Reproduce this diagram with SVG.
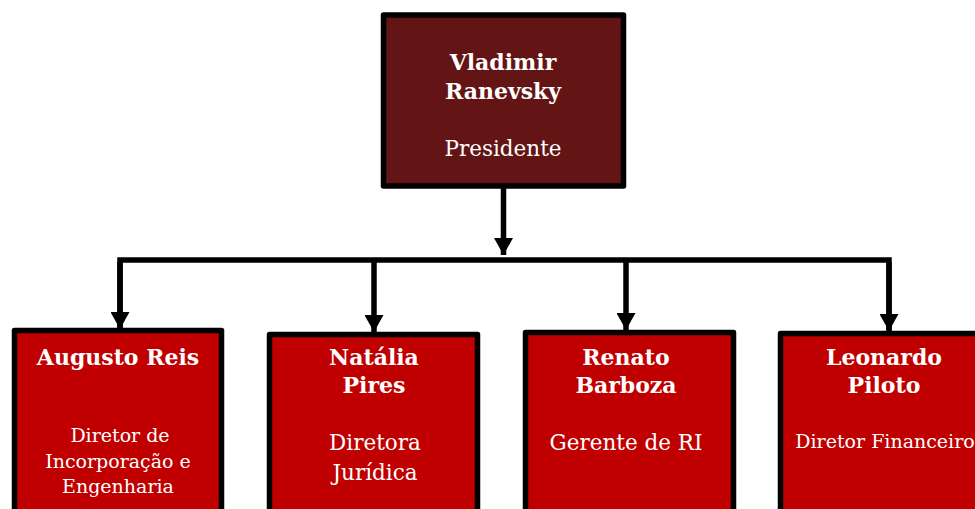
<svg xmlns="http://www.w3.org/2000/svg" width="975" height="509" viewBox="0 0 975 509">
<defs>
<style>
.box{stroke:#000;stroke-width:5.5;stroke-linejoin:round}
.top{fill:#631515}
.sub{fill:#c00000}
text{font-family:"DejaVu Serif","Liberation Serif",serif;fill:#fff;text-anchor:middle}
.n{font-weight:bold;font-size:22px}
.t{font-size:21.5px}
.s{font-size:19px}
.conn{stroke:#000;stroke-width:5.5;fill:none}
</style>
<marker id="ah" viewBox="0 0 17 19" refX="17" refY="9.5" markerWidth="17" markerHeight="19" markerUnits="userSpaceOnUse" orient="auto">
<path d="M0,0 L17,9.5 L0,19 Z" fill="#000"/>
</marker>
</defs>
<rect width="975" height="509" fill="#fff"/>
<g id="connectors">
<line class="conn" x1="503.5" y1="186" x2="503.5" y2="255" marker-end="url(#ah)"/>
<polyline class="conn" points="120,328 120,260 889,260 889,330"/>
<line class="conn" x1="120" y1="262" x2="120" y2="329" marker-end="url(#ah)"/>
<line class="conn" x1="374" y1="262" x2="374" y2="332" marker-end="url(#ah)"/>
<line class="conn" x1="626" y1="262" x2="626" y2="330" marker-end="url(#ah)"/>
<line class="conn" x1="889" y1="262" x2="889" y2="331" marker-end="url(#ah)"/>
</g>
<g id="n-vladimir">
<rect class="box top" x="383.5" y="15" width="240" height="171"/>
<text class="n" x="503" y="70">Vladimir</text>
<text class="n" x="503" y="99">Ranevsky</text>
<text class="t" x="503" y="156">Presidente</text>
</g>
<g id="n-augusto">
<rect class="box sub" x="14.5" y="330.5" width="207" height="190"/>
<text class="n" x="118" y="365">Augusto Reis</text>
<text class="s" x="120" y="442">Diretor de</text>
<text class="s" x="118" y="468">Incorporação e</text>
<text class="s" x="118" y="493">Engenharia</text>
</g>
<g id="n-natalia">
<rect class="box sub" x="269.5" y="334.5" width="208" height="190"/>
<text class="n" x="374" y="365">Natália</text>
<text class="n" x="374" y="393">Pires</text>
<text class="t" x="375" y="450">Diretora</text>
<text class="t" x="375" y="480">Jurídica</text>
</g>
<g id="n-renato">
<rect class="box sub" x="525.5" y="332.5" width="208" height="190"/>
<text class="n" x="626" y="365">Renato</text>
<text class="n" x="626" y="393">Barboza</text>
<text class="t" x="626" y="450">Gerente de RI</text>
</g>
<g id="n-leonardo">
<rect class="box sub" x="780.5" y="333.5" width="210" height="190"/>
<text class="n" x="884" y="365">Leonardo</text>
<text class="n" x="884" y="393">Piloto</text>
<text class="s" x="885" y="448">Diretor Financeiro</text>
</g>
</svg>
